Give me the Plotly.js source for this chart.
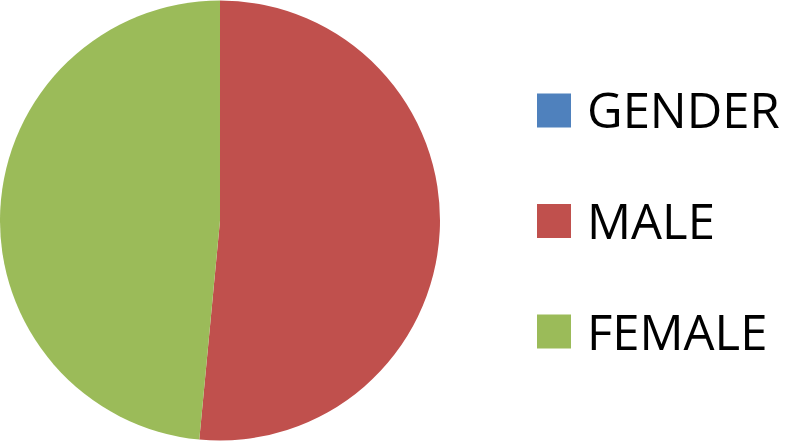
<!DOCTYPE html>
<html>
<head>
<meta charset="utf-8">
<script src="https://cdn.plot.ly/plotly-3.0.1.min.js"></script>
<style>
  html, body { margin: 0; padding: 0; background: #fff; }
  #chart { width: 796px; height: 441px; }
</style>
</head>
<body>
<div id="chart"></div>
<script>
const labels = ['GENDER', 'MALE', 'FEMALE'];
const values = [0, 103, 97];
const colors = ['#4F81BD', '#C0504D', '#9BBB59'];

// legend is drawn by hand so the squares and row gaps can match the original
const legendX = 537;
const legendTop = 110.5;
const legendStep = 110.5;
const box = 34;
const W = 796, H = 441;

const shapes = [];
const annotations = [];
labels.forEach((lab, i) => {
  const cy = legendTop + i * legendStep;
  shapes.push({
    type: 'rect', xref: 'paper', yref: 'paper',
    x0: legendX / W, x1: (legendX + box) / W,
    y0: 1 - (cy + box / 2) / H, y1: 1 - (cy - box / 2) / H,
    fillcolor: colors[i], line: {width: 0}
  });
  annotations.push({
    xref: 'paper', yref: 'paper',
    x: (legendX + box + 14) / W, y: 1 - (cy - 1) / H,
    xanchor: 'left', yanchor: 'middle',
    text: lab, showarrow: false,
    font: {family: 'Open Sans', size: 49, color: '#000'}
  });
});

const trace = {
  type: 'pie',
  labels: labels,
  values: values,
  sort: false,
  direction: 'clockwise',
  rotation: 0,
  textinfo: 'none',
  hoverinfo: 'label+value',
  marker: {colors: colors, line: {width: 0}},
  domain: {x: [0, 440 / W], y: [0, 1]},
  showlegend: false
};

const layout = {
  width: W,
  height: H,
  margin: {l: 0, r: 0, t: 0, b: 0},
  paper_bgcolor: '#fff',
  showlegend: false,
  shapes: shapes,
  annotations: annotations
};

Plotly.newPlot('chart', [trace], layout, {staticPlot: true});
</script>
</body>
</html>
